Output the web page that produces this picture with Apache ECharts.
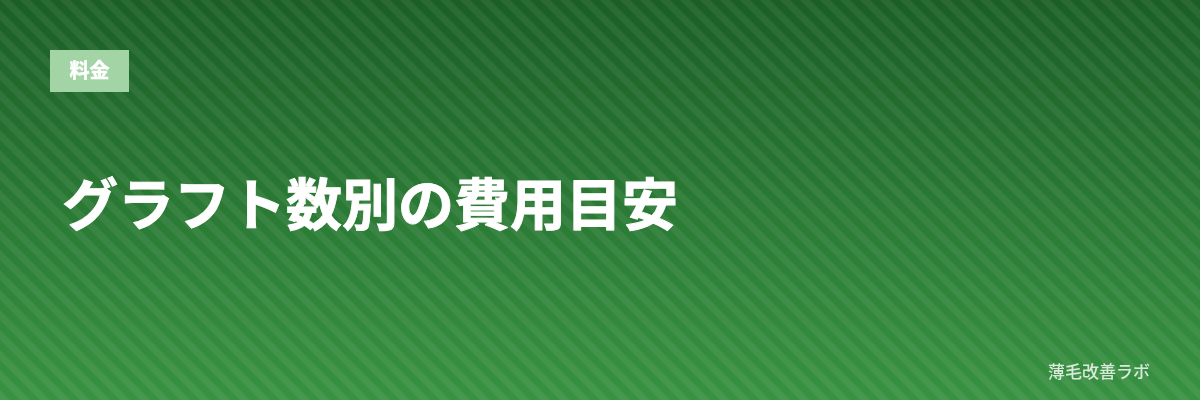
<!DOCTYPE html>
<html>
<head>
<meta charset="utf-8">
<script src="https://cdn.jsdelivr.net/npm/echarts@6/dist/echarts.min.js"></script>
<style>
    html, body { margin: 0; padding: 0; }
    #chart { width: 1200px; height: 400px; }
</style>
</head>
<body>
<div id="chart"></div>
<script>
// テキスト
const tagText = '料金';
const titleText = 'グラフト数別の費用目安';
const brandText = '薄毛改善ラボ';

const W = 1200, H = 400;
const FONT = '"Noto Sans CJK JP", "Noto Sans", sans-serif';

// 斜めストライプ (装飾)
function buildStripes() {
    const list = [];
    const step = 20, band = 10;
    for (let x = -H; x < W + step; x += step) {
        list.push({
            type: 'polygon',
            silent: true,
            shape: { points: [[x, 0], [x + band, 0], [x + band + H, H], [x + H, H]] },
            style: { fill: 'rgba(255,255,255,0.065)' }
        });
    }
    return list;
}

const chart = echarts.init(document.getElementById('chart'), null, { renderer: 'canvas' });

chart.setOption({
    animation: false,
    graphic: [
        {
            type: 'rect',
            shape: { x: 0, y: 0, width: W, height: H },
            style: {
                fill: new echarts.graphic.LinearGradient(0, 0, 0, 1, [
                    { offset: 0, color: '#1b5f26' },
                    { offset: 1, color: '#389242' }
                ])
            }
        },
        ...buildStripes(),
        {
            type: 'rect',
            shape: { x: 50, y: 50, width: 79, height: 42 },
            style: { fill: '#a3d4a5' }
        },
        {
            type: 'text',
            x: 89.5, y: 70,
            style: {
                text: tagText, fill: '#ffffff',
                stroke: '#ffffff', lineWidth: 0.5,
                font: 'bold 20px ' + FONT,
                align: 'center', verticalAlign: 'middle'
            }
        },
        {
            type: 'text',
            x: 62, y: 204,
            style: {
                text: titleText, fill: '#ffffff',
                stroke: '#ffffff', lineWidth: 0.9,
                font: 'bold 56px ' + FONT,
                align: 'left', verticalAlign: 'middle'
            }
        },
        {
            type: 'text',
            x: 1150, y: 372,
            style: {
                text: brandText, fill: 'rgba(240,245,240,0.88)',
                font: '500 17px ' + FONT,
                align: 'right', verticalAlign: 'middle'
            }
        }
    ]
});
</script>
</body>
</html>
